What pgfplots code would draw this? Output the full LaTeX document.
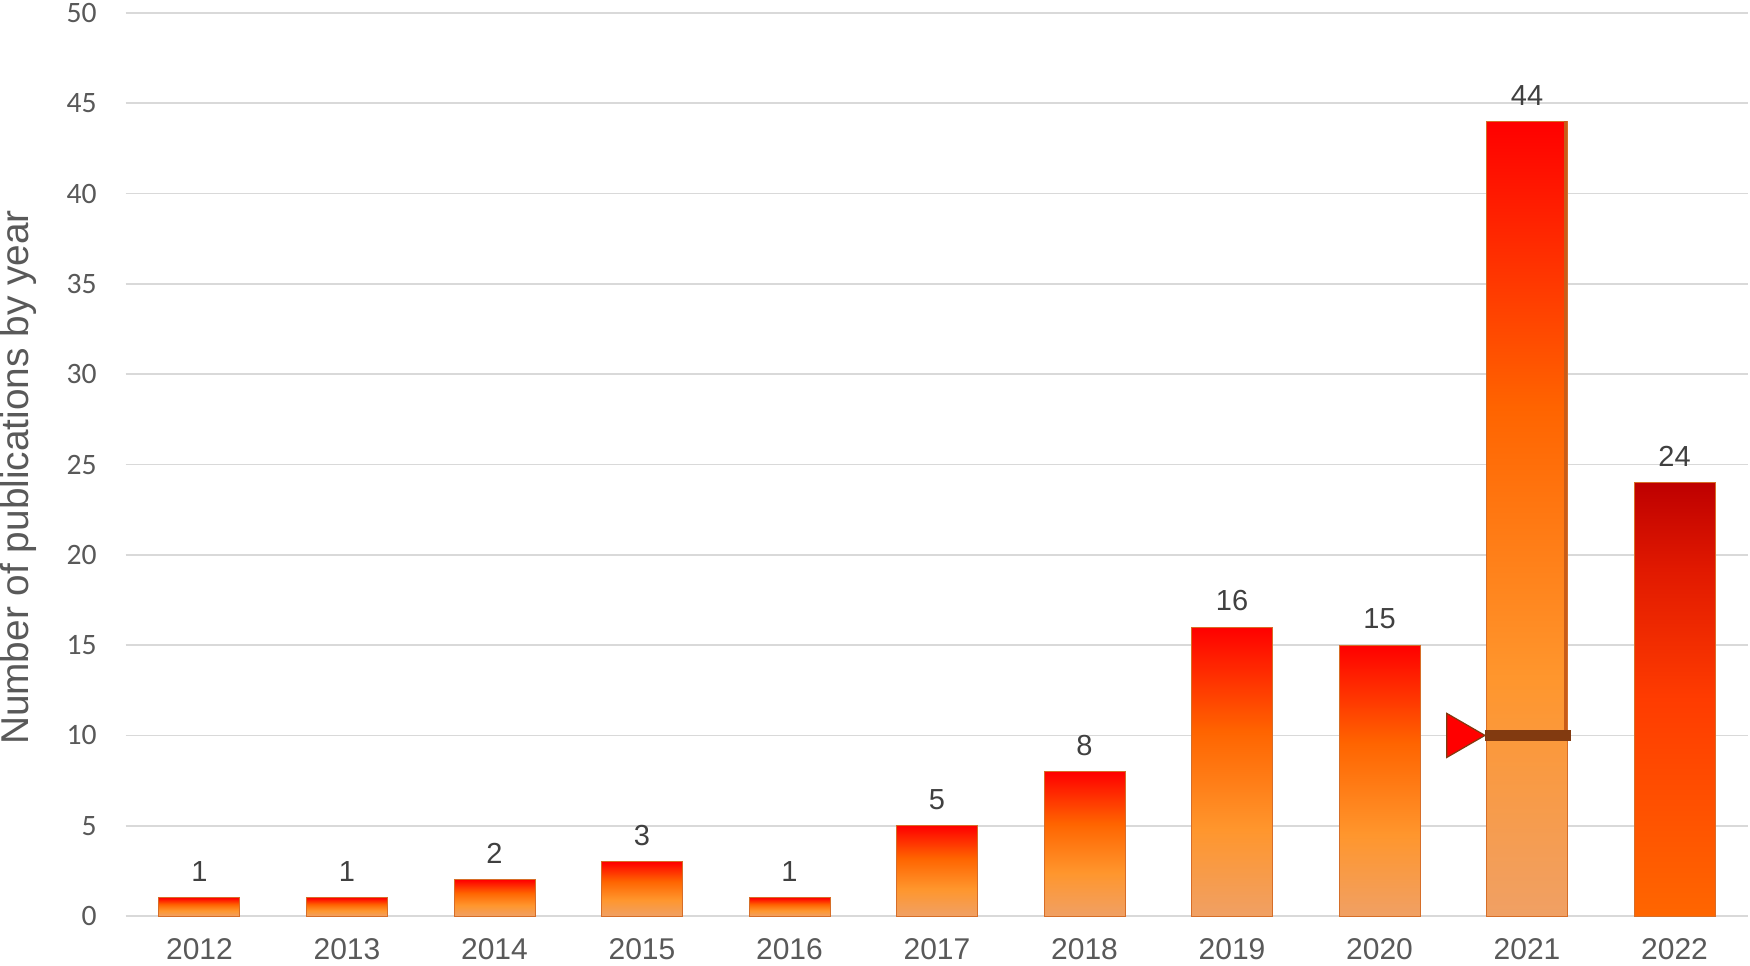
\documentclass[border=0pt]{standalone}
\usepackage{fontspec}
\setmainfont{Liberation Sans}
\newfontfamily\carlito{Carlito}
\usepackage{pgfplots}
\pgfplotsset{compat=1.18}
\usetikzlibrary{calc}

\definecolor{gridgray}{RGB}{217,217,217}
\definecolor{tickgray}{RGB}{89,89,89}
\definecolor{labelgray}{RGB}{64,64,64}
\definecolor{baredge}{RGB}{214,110,40}
\definecolor{markbrown}{RGB}{130,58,16}
\definecolor{edgebrown}{RGB}{200,92,24}
% ordinary bars: red top, salmon bottom
\definecolor{btop}{RGB}{255,0,0}
\definecolor{bor1}{RGB}{255,100,0}
\definecolor{bor2}{RGB}{255,150,45}
\definecolor{bsal}{RGB}{240,160,100}
% 2022 bar: dark red top, orange bottom
\definecolor{dtop}{RGB}{190,0,0}
\definecolor{dmid1}{RGB}{225,25,0}
\definecolor{dmid2}{RGB}{255,60,0}
\definecolor{dbot}{RGB}{255,102,0}

\pgfdeclareverticalshading{barfade}{100bp}{color(0bp)=(bsal); color(25bp)=(bsal); color(40bp)=(bor2); color(57bp)=(bor1); color(75bp)=(btop); color(100bp)=(btop)}
\pgfdeclareverticalshading{darkfade}{100bp}{color(0bp)=(dbot); color(25bp)=(dbot); color(50bp)=(dmid2); color(65bp)=(dmid1); color(75bp)=(dtop); color(100bp)=(dtop)}

% one bar per \addplot so that each bar gets its own gradient
\pgfplotsset{pubbar/.style={ybar, bar width=40.5pt, bar shift=0pt,
    draw=baredge, line width=0.5pt, shade, shading=#1,
    nodes near coords,
    nodes near coords style={font=\fontsize{14.5}{16}\selectfont, text=labelgray,
                             anchor=south, inner sep=0pt, yshift=7.8pt}}}

\begin{document}
\begin{tikzpicture}
\begin{axis}[name=ax, scale only axis, width=811.25pt, height=451.5pt,
    xmin=-0.5, xmax=10.5, ymin=0, ymax=50,
    xtick={0,1,2,3,4,5,6,7,8,9,10},
    xticklabels={2012,2013,2014,2015,2016,2017,2018,2019,2020,2021,2022},
    ytick={0,5,...,50},
    ymajorgrids, grid style={gridgray, line width=0.8pt},
    axis lines*=left, axis line style={draw=none}, major tick length=0pt,
    /pgf/number format/assume math mode=true,
    tick label style={text=tickgray, inner sep=0pt},
    y tick label style={font=\carlito\fontsize{14.8}{16}\selectfont, anchor=east, xshift=-14.4pt},
    x tick label style={font=\fontsize{15}{17}\selectfont, anchor=base, yshift=-21.5pt},
    ylabel={Number of publications by year},
    ylabel style={at={(axis description cs:-0.05963,0.4856)}, anchor=base,
                  font=\fontsize{19.4}{21}\selectfont, text=tickgray, inner sep=0pt},
    clip=false]
\addplot[pubbar=barfade] coordinates {(0,1)};
\addplot[pubbar=barfade] coordinates {(1,1)};
\addplot[pubbar=barfade] coordinates {(2,2)};
\addplot[pubbar=barfade] coordinates {(3,3)};
\addplot[pubbar=barfade] coordinates {(4,1)};
\addplot[pubbar=barfade] coordinates {(5,5)};
\addplot[pubbar=barfade] coordinates {(6,8)};
\addplot[pubbar=barfade] coordinates {(7,16)};
\addplot[pubbar=barfade] coordinates {(8,15)};
\addplot[pubbar=barfade] coordinates {(9,44)};
\addplot[pubbar=darkfade] coordinates {(10,24)};
% darker right edge of the 2021 bar above the marker
\addplot[edgebrown, line width=1.5pt, no marks] coordinates {(9.264,10) (9.264,44)};
% level line and pointer on the 2021 bar
\addplot[markbrown, line width=5.5pt, no marks] coordinates {(8.715,10) (9.296,10)};
\addplot[only marks, mark=triangle*, mark size=12.75pt,
         mark options={rotate=-90, fill=red, draw=markbrown, line width=0.6pt}]
    coordinates {(8.542,10)};
\end{axis}
\pgfresetboundingbox
\path ($(ax.south west)+(-62.875pt,-24.5pt)$) rectangle ($(ax.north east)+(0.875pt,6.5pt)$);
\end{tikzpicture}
\end{document}
